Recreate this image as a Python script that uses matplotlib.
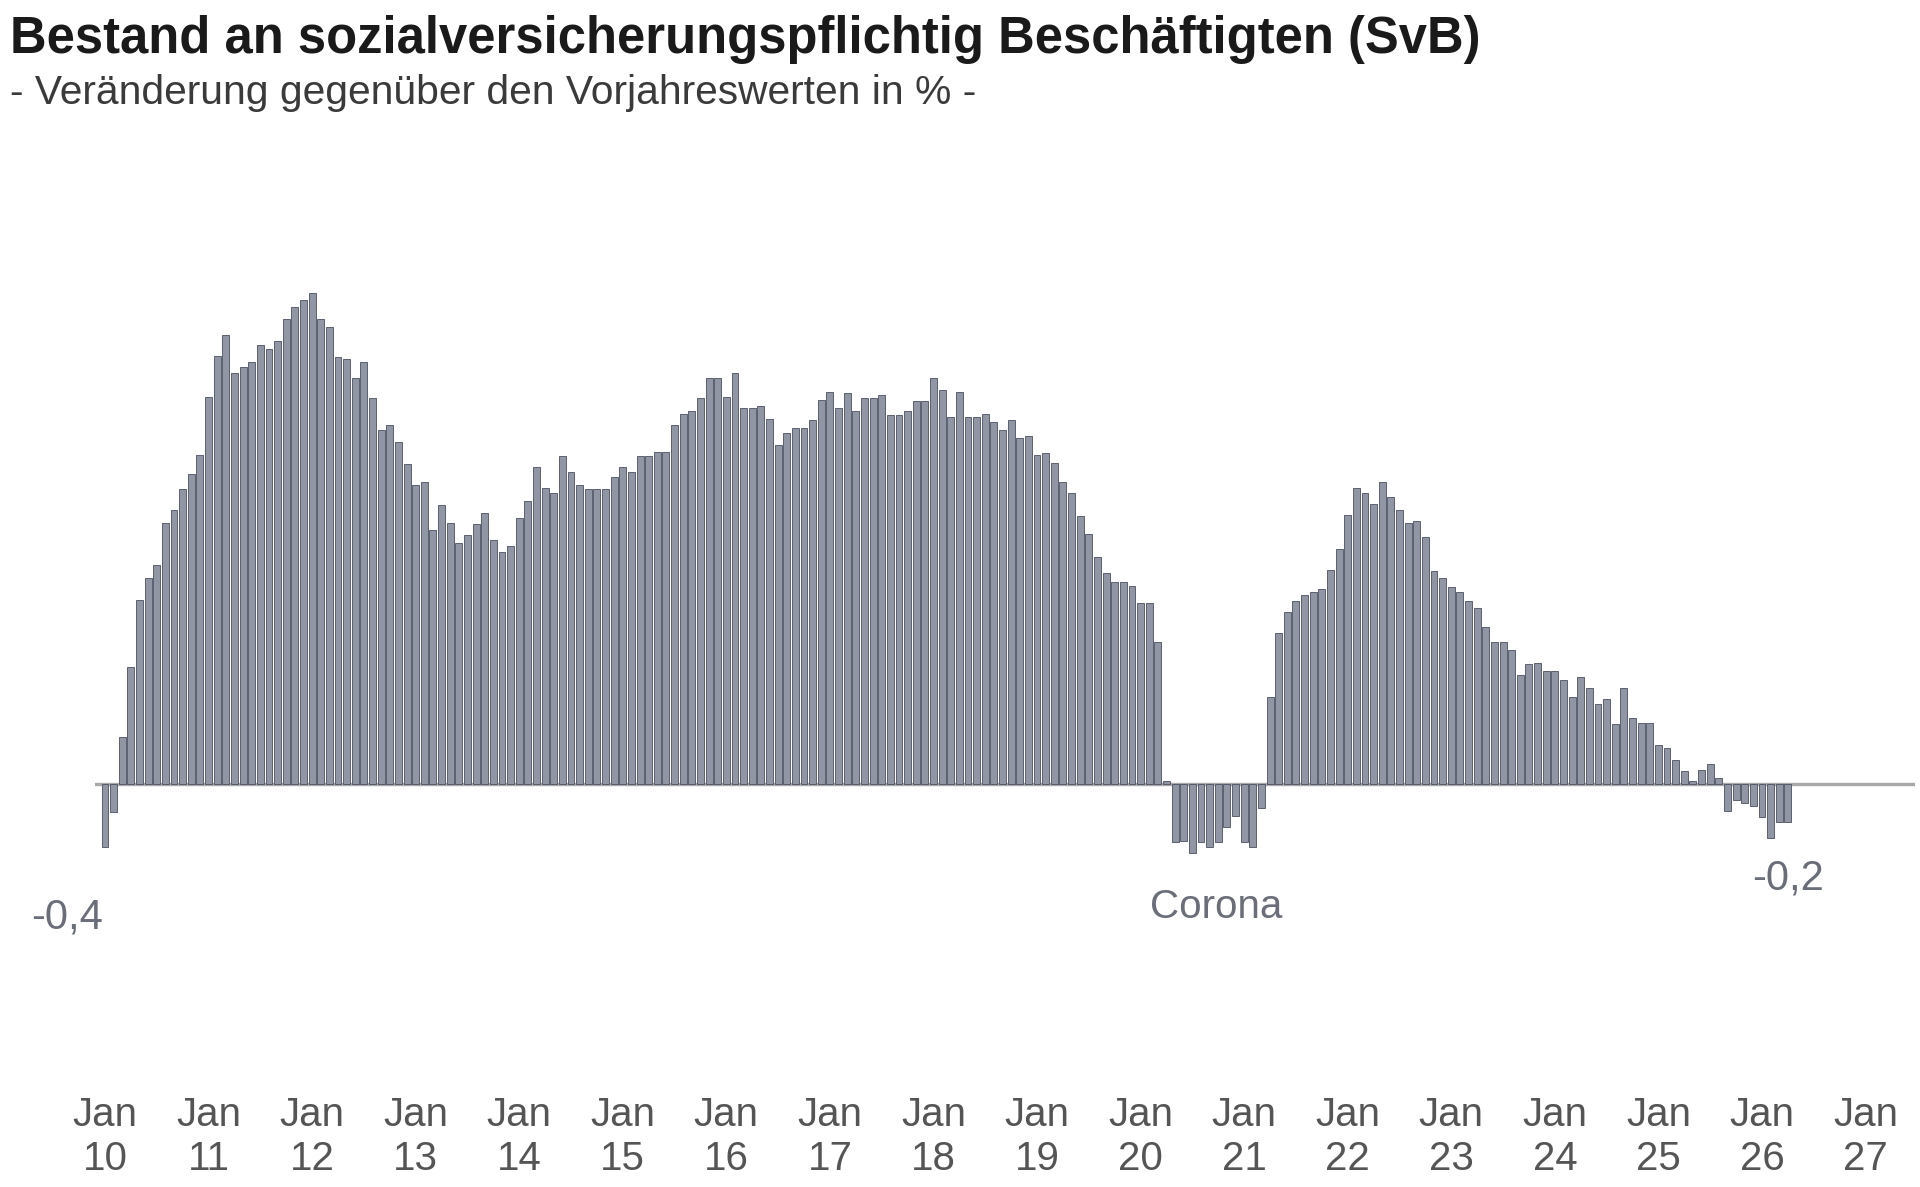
import numpy as np
import matplotlib
matplotlib.use("Agg")
import matplotlib.pyplot as plt

plt.rcParams['font.family'] = ['Liberation Sans', 'DejaVu Sans']

# monthly change vs. previous year in %, Jan 2010 .. Apr 2026
v2010 = [-0.40, -0.18, 0.30, 0.74, 1.17, 1.31, 1.39, 1.66, 1.74, 1.87, 1.97, 2.09]
v2011 = [2.46, 2.72, 2.85, 2.61, 2.65, 2.68, 2.79, 2.76, 2.81, 2.95, 3.03, 3.07]
v2012 = [3.12, 2.95, 2.90, 2.71, 2.70, 2.58, 2.68, 2.45, 2.25, 2.28, 2.17, 2.03]
v2013 = [1.90, 1.92, 1.61, 1.77, 1.66, 1.53, 1.58, 1.65, 1.72, 1.55, 1.47, 1.51]
v2014 = [1.69, 1.80, 2.01, 1.88, 1.85, 2.08, 1.98, 1.90, 1.87, 1.87, 1.87, 1.95]
v2015 = [2.01, 1.98, 2.08, 2.08, 2.11, 2.11, 2.28, 2.35, 2.37, 2.45, 2.58, 2.58]
v2016 = [2.46, 2.61, 2.39, 2.39, 2.40, 2.32, 2.15, 2.23, 2.26, 2.26, 2.31, 2.44]
v2017 = [2.49, 2.39, 2.48, 2.37, 2.45, 2.45, 2.47, 2.34, 2.34, 2.37, 2.43, 2.43]
v2018 = [2.58, 2.50, 2.33, 2.49, 2.33, 2.33, 2.35, 2.30, 2.25, 2.31, 2.20, 2.21]
v2019 = [2.09, 2.10, 2.04, 1.92, 1.85, 1.70, 1.59, 1.44, 1.34, 1.28, 1.28, 1.26]
v2020 = [1.15, 1.15, 0.90, 0.02, -0.37, -0.36, -0.44, -0.37, -0.40, -0.37, -0.27, -0.20]
v2021 = [-0.37, -0.40, -0.15, 0.55, 0.96, 1.09, 1.16, 1.20, 1.22, 1.24, 1.36, 1.49]
v2022 = [1.71, 1.88, 1.85, 1.78, 1.92, 1.82, 1.74, 1.66, 1.67, 1.57, 1.35, 1.31]
v2023 = [1.25, 1.22, 1.16, 1.12, 1.00, 0.90, 0.90, 0.85, 0.69, 0.76, 0.77, 0.72]
v2024 = [0.72, 0.66, 0.55, 0.68, 0.61, 0.51, 0.54, 0.38, 0.61, 0.42, 0.39, 0.39]
v2025 = [0.25, 0.23, 0.15, 0.08, 0.02, 0.09, 0.13, 0.04, -0.17, -0.10, -0.12, -0.14]
v2026 = [-0.21, -0.34, -0.24, -0.24]

values = (v2010 + v2011 + v2012 + v2013 + v2014 + v2015 + v2016 + v2017 + v2018
          + v2019 + v2020 + v2021 + v2022 + v2023 + v2024 + v2025 + v2026)
months = np.arange(len(values))

tick_years = list(range(2010, 2028))
tick_labels = ["Jan\n%02d" % (y % 100) for y in tick_years]

# layout in pixels (figure 1920x1187)
W, H = 1920, 1187
x0_px, month_px = 105, 8.63
zero_px, pct_px = 784, 157.5
ax_left, ax_right, ax_top, ax_bottom = 95, 1915, 250, 870

fig = plt.figure(figsize=(W / 100, H / 100), dpi=100)
ax = fig.add_axes([ax_left / W, 1 - ax_bottom / H, (ax_right - ax_left) / W, (ax_bottom - ax_top) / H])

ax.set_xlim((ax_left - x0_px) / month_px, (ax_right - x0_px) / month_px)
ax.set_ylim((zero_px - ax_bottom) / pct_px, (zero_px - ax_top) / pct_px)

ax.axhline(0, color='#a9a9a9', lw=2.4, zorder=1)
ax.bar(months, values, width=0.8, color='#9196a4', edgecolor='#4a4f63', linewidth=0.6, zorder=2)

for s in ax.spines.values():
    s.set_visible(False)
ax.set_yticks([])
ax.set_xticks([12 * i for i in range(len(tick_years))])
ax.set_xticklabels(tick_labels, fontsize=29, color='#555555', linespacing=1.2)
ax.tick_params(axis='x', length=0, pad=163)

# annotations
ann_color = '#6a6e78'
ax.text(-4.4, -0.85, "-0,4", fontsize=30, color=ann_color, ha='center', va='center')
ax.text((1216 - x0_px) / month_px, -0.78, "Corona", fontsize=29, color=ann_color, ha='center', va='center')
ax.text(195, -0.60, "-0,2", fontsize=30, color=ann_color, ha='center', va='center')

fig.text(10 / W, 1 - 40 / H, "Bestand an sozialversicherungspflichtig Beschäftigten (SvB)",
         fontsize=36.5, fontweight='bold', color='#1a1a1a', ha='left', va='center')
fig.text(10 / W, 1 - 93 / H, "- Veränderung gegenüber den Vorjahreswerten in % -",
         fontsize=29.3, color='#3a3a3a', ha='left', va='center')

fig.savefig("out.png", dpi=100)
